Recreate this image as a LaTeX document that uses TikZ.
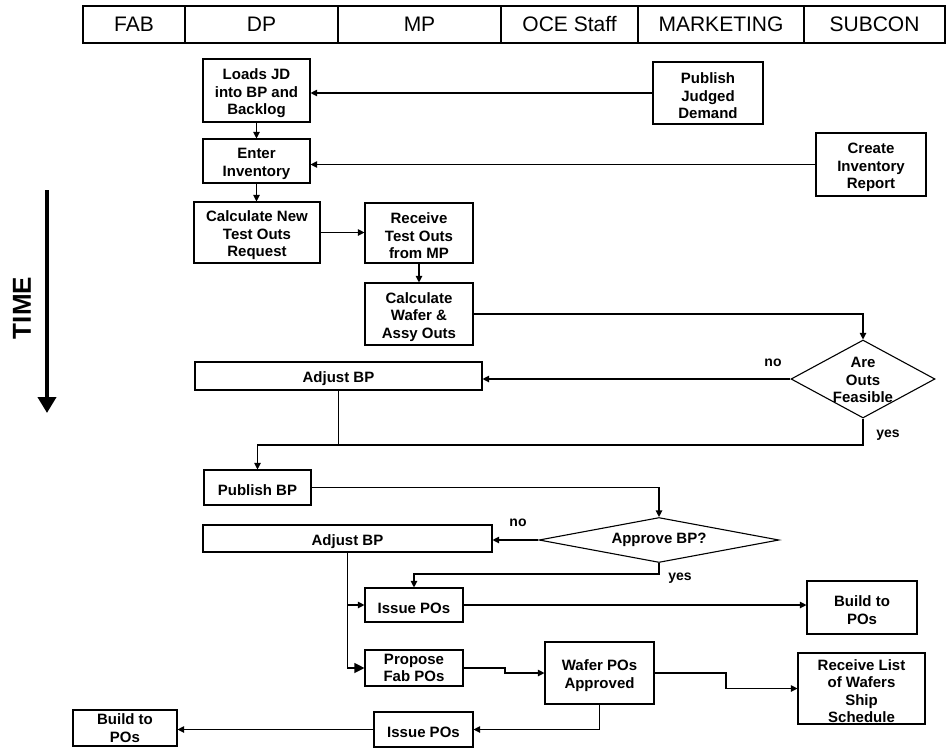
\documentclass[tikz,border=0pt]{standalone}
\usepackage{fontspec}
\setmainfont{Liberation Sans}
\usetikzlibrary{arrows.meta,shapes.geometric}

% strut that lifts the first text line so box labels sit centred by their caps
\newcommand\fst{\rule{0pt}{16.5pt}}

\tikzset{
  box/.style={draw, line width=1.1pt, align=center, inner sep=0pt,
              font=\bfseries\fontsize{15}{17.5}\selectfont},
  cell/.style={draw, line width=1.1pt, minimum height=37pt, inner sep=0pt,
               font=\fontsize{21}{23}\selectfont},
  decide/.style={draw, diamond, line width=1.1pt, inner sep=0pt},
  dtext/.style={align=center, inner sep=0pt, font=\bfseries\fontsize{15}{17.5}\selectfont},
  link/.style={line width=1.1pt},
  flow/.style={link, -{Triangle[length=6.5pt,width=6.5pt]}},
  bigflow/.style={link, -{Triangle[length=10pt,width=10pt]}},
  tag/.style={font=\bfseries\fontsize{14}{16}\selectfont, inner sep=0pt},
}

\begin{document}
\begin{tikzpicture}[x=1pt, y=-1pt]
\useasboundingbox (0,0) rectangle (948,750);

% swim-lane header
\node[cell, minimum width=102pt] (hfab) at (134,24.5)   {FAB};
\node[cell, minimum width=153pt] (hdp)  at (261.5,24.5) {DP};
\node[cell, minimum width=163pt] (hmp)  at (419.5,24.5) {MP};
\node[cell, minimum width=137pt] (hoce) at (569.5,24.5) {OCE Staff};
\node[cell, minimum width=166pt] (hmkt) at (721,24.5)   {MARKETING};
\node[cell, minimum width=141pt] (hsub) at (874.5,24.5) {SUBCON};

% time axis
\coordinate (tstart) at (47,190);
\coordinate (tend) at (47,413);
\draw[line width=4pt, -{Triangle[length=16pt,width=18pt]}] (tstart) -- (tend);
\node[rotate=90, font=\bfseries\fontsize{26}{28}\selectfont, inner sep=0pt] (time) at (22,308) {TIME};

% process steps
\node[box, minimum width=107pt, minimum height=63pt] (loads)    at (256.5,90.5) {\fst Loads JD\\into BP and\\Backlog};
\node[box, minimum width=110pt, minimum height=62pt] (pjd)      at (708,93)     {\fst Publish\\Judged\\Demand};
\node[box, minimum width=107pt, minimum height=44pt] (enter)    at (256.5,161)  {\fst Enter\\Inventory};
\node[box, minimum width=110pt, minimum height=63pt] (cir)      at (871,164.5)  {\fst Create\\Inventory\\Report};
\node[box, minimum width=126pt, minimum height=61pt] (calcnew)  at (257,232.5)  {\fst Calculate New\\Test Outs\\Request};
\node[box, minimum width=108pt, minimum height=60pt] (receive)  at (419,233)    {\fst Receive\\Test Outs\\from MP};
\node[box, minimum width=108pt, minimum height=62pt] (calcw)    at (419,314)    {\fst Calculate\\Wafer \&\\Assy Outs};
\node[decide, minimum width=144pt, minimum height=78pt] (d1)    at (863,379)    {};
\node[dtext] (d1t) at (863,380) {Are\\Outs\\Feasible};
\node[box, minimum width=287pt, minimum height=28pt] (adj1)     at (338.5,376)  {\fst Adjust BP};
\node[box, minimum width=107pt, minimum height=35pt] (pubbp)    at (257.5,487.5){\fst Publish BP};
\node[decide, minimum width=240pt, minimum height=45pt] (d2)    at (659,540)    {};
\node[dtext] (d2t) at (659,540) {Approve BP?};
\node[box, minimum width=289pt, minimum height=27pt] (adj2)     at (347.5,538.5){\fst Adjust BP};
\node[box, minimum width=98pt,  minimum height=34pt] (iss1)     at (414,605)    {\fst Issue POs};
\node[box, minimum width=110pt, minimum height=53pt] (btp1)     at (862,607.5)  {\fst Build to\\POs};
\node[box, minimum width=98pt,  minimum height=36pt] (prop)     at (414,668)    {Propose\\Fab POs};
\node[box, minimum width=109pt, minimum height=62pt] (wafer)    at (599.5,673)  {\fst Wafer POs\\Approved};
\node[box, minimum width=127pt, minimum height=71pt] (rcv)      at (861.5,688.5){\fst Receive List\\of Wafers\\Ship\\Schedule};
\node[box, minimum width=99pt,  minimum height=35pt] (iss2)     at (423.5,729.5){\fst Issue POs};
\node[box, minimum width=104pt, minimum height=36pt] (btp2)     at (125,728)    {Build to\\POs};

% decision labels
\node[tag] (no1)  at (773,363) {no};
\node[tag] (yes1) at (888,435) {yes};
\node[tag] (no2)  at (518,523) {no};
\node[tag] (yes2) at (680,578) {yes};

% connectors
\draw[flow] (pjd.west) -- (pjd.west -| loads.east);
\draw[flow] (loads.south) -- (loads.south |- enter.north);
\draw[flow] (cir.west) -- (cir.west -| enter.east);
\draw[flow] (enter.south) -- (enter.south |- calcnew.north);
\draw[flow] (calcnew.east) -- (calcnew.east -| receive.west);
\draw[flow] (receive.south) -- (calcw.north);
\draw[flow] (calcw.east) -| (d1.north);
\draw[flow] (d1.west) -- (d1.west -| adj1.east);

\coordinate (j1) at (257.5,445);
\draw[flow] (d1.south) |- (j1) -- (pubbp.north);
\draw[link] (adj1.south) -- (adj1.south |- j1);

\draw[flow] (pubbp.east) -| (d2.north);
\draw[flow] (d2.west) -- (d2.west -| adj2.east);

\coordinate (j2) at (414,574);
\draw[flow] (d2.south) |- (j2) -- (iss1.north);

\draw[bigflow] (adj2.south) |- (prop.west);
\draw[flow] (adj2.south |- iss1.west) -- (iss1.west);
\draw[flow] (iss1.east) -- (iss1.east -| btp1.west);

\coordinate (s1) at (505,668);
\draw[flow] (prop.east) -- (s1) -- (s1 |- wafer.west) -- (wafer.west);
\coordinate (s2) at (726,673);
\draw[flow] (wafer.east) -- (s2) |- (rcv.west);
\draw[flow] (wafer.south) |- (iss2.east);
\draw[flow] (iss2.west) -- (iss2.west -| btp2.east);
\end{tikzpicture}
\end{document}
